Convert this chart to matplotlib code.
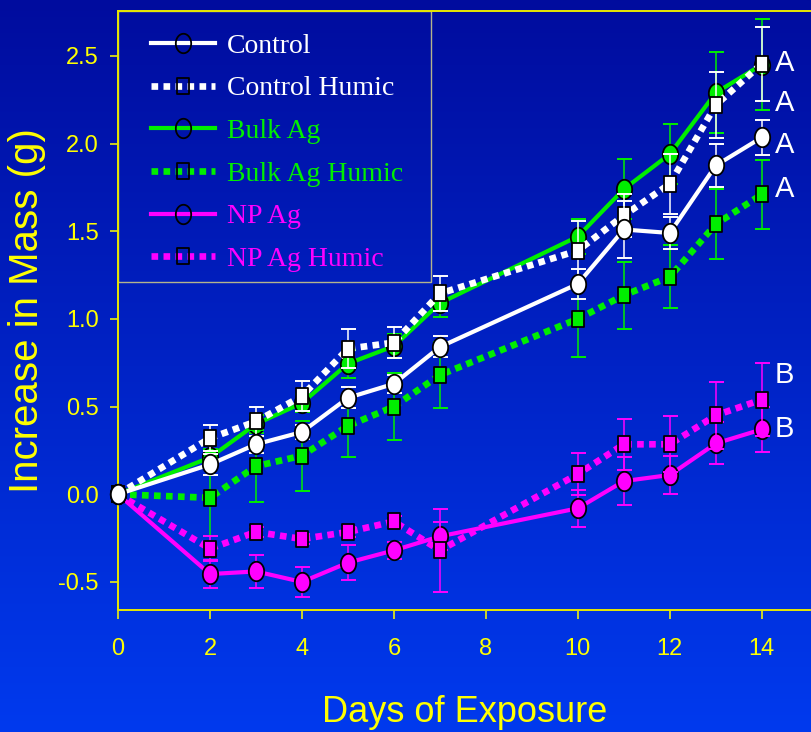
import numpy as np
import matplotlib
matplotlib.use("Agg")
import matplotlib.pyplot as plt
from matplotlib.path import Path
from matplotlib.lines import Line2D
from matplotlib.patches import Rectangle

# mass gain per treatment, mean and error, by day of exposure
days = [0, 2, 3, 4, 5, 6, 7, 10, 11, 12, 13, 14]

control = [0, 0.17, 0.285, 0.355, 0.55, 0.63, 0.84, 1.20, 1.51, 1.49, 1.875, 2.035]
control_err = [0, 0.06, 0.05, 0.04, 0.06, 0.05, 0.06, 0.085, 0.16, 0.09, 0.12, 0.10]

control_humic = [0, 0.32, 0.415, 0.56, 0.83, 0.865, 1.145, 1.39, 1.59, 1.77, 2.22, 2.455]
control_humic_err = [0, 0.075, 0.08, 0.085, 0.11, 0.09, 0.10, 0.17, 0.12, 0.17, 0.19, 0.21]

bulk_ag = [0, 0.21, 0.40, 0.52, 0.745, 0.845, 1.09, 1.47, 1.74, 1.94, 2.29, 2.45]
bulk_ag_err = [0, 0.05, 0.05, 0.05, 0.08, 0.07, 0.08, 0.10, 0.17, 0.17, 0.23, 0.26]

bulk_ag_humic = [0, -0.02, 0.16, 0.22, 0.39, 0.50, 0.68, 1.00, 1.135, 1.24, 1.54, 1.71]
bulk_ag_humic_err = [0, 0.22, 0.205, 0.20, 0.18, 0.19, 0.19, 0.22, 0.19, 0.18, 0.20, 0.195]

np_ag = [0, -0.455, -0.44, -0.50, -0.39, -0.32, -0.24, -0.08, 0.075, 0.11, 0.29, 0.37]
np_ag_err = [0, 0.08, 0.095, 0.085, 0.10, 0.05, 0.08, 0.105, 0.135, 0.11, 0.12, 0.13]

np_ag_humic = [0, -0.31, -0.215, -0.255, -0.215, -0.155, -0.32, 0.115, 0.285, 0.285, 0.45, 0.54]
np_ag_humic_err = [0, 0.07, 0.03, 0.03, 0.03, 0.03, 0.235, 0.12, 0.145, 0.16, 0.19, 0.21]

# significance letters at day 14
sig_letters = ["A", "A", "A", "A", "B", "B"]
sig_y = [2.46, 2.23, 1.99, 1.74, 0.68, 0.37]

WHITE = "#ffffff"
GREEN = "#00ee00"
MAGENTA = "#ff00ff"
YELLOW = "#ffff00"

# slightly tall markers
t = np.linspace(0, 2 * np.pi, 64)
ellipse = Path(np.column_stack([0.79 * np.cos(t), np.sin(t)]), closed=True)
tall_sq = Path([(-0.82, -1), (0.82, -1), (0.82, 1), (-0.82, 1), (-0.82, -1)], closed=True)

solid = dict(ls="-", lw=3.0)
dotted = dict(ls=(0, (1, 0.8)), lw=4.8)

# drawn bottom to top
series = [
    ("Bulk Ag", bulk_ag, bulk_ag_err, GREEN, ellipse, 14, solid),
    ("NP Ag", np_ag, np_ag_err, MAGENTA, ellipse, 14, solid),
    ("Bulk Ag Humic", bulk_ag_humic, bulk_ag_humic_err, GREEN, tall_sq, 11, dotted),
    ("NP Ag Humic", np_ag_humic, np_ag_humic_err, MAGENTA, tall_sq, 11, dotted),
    ("Control Humic", control_humic, control_humic_err, WHITE, tall_sq, 11, dotted),
    ("Control", control, control_err, WHITE, ellipse, 14, solid),
]

fig = plt.figure(figsize=(8.11, 7.32), dpi=100)

# blue backdrop, darker at the top
bg = fig.add_axes([0, 0, 1, 1], zorder=-1)
g = np.linspace(0, 1, 256)[:, None]
top = np.array([0, 12, 158]) / 255
bot = np.array([0, 58, 238]) / 255
img = (top + (bot - top) * g)[:, None, :]
bg.imshow(img, aspect="auto", extent=[0, 1, 0, 1])
bg.axis("off")

ax = fig.add_axes([118 / 811, 122 / 732, 693 / 811, 599 / 732])
ax.set_facecolor("none")

z = 2
for label, y, err, color, marker, ms, style in series:
    ax.errorbar(days[1:], y[1:], yerr=err[1:], fmt="none", ecolor=color,
                elinewidth=1.1, capsize=5.4, capthick=1.4, zorder=z)
    ax.plot(days, y, color=color, zorder=z + 0.1, **style)
    ax.plot(days, y, ls="none", marker=marker, ms=ms, mfc=color, mec="black",
            mew=1.3, clip_on=False, zorder=z + 0.2)
    z += 1

for s, yy in zip(sig_letters, sig_y):
    ax.text(14.5, yy, s, color=WHITE, fontsize=21, ha="center", va="center",
            family="Liberation Sans")

ax.set_xlim(0, 15.07)
ax.set_ylim(-0.66, 2.756)
ax.set_xticks([0, 2, 4, 6, 8, 10, 12, 14])
ax.set_yticks([-0.5, 0, 0.5, 1.0, 1.5, 2.0, 2.5])
ax.set_yticklabels(["-0.5", "0.0", "0.5", "1.0", "1.5", "2.0", "2.5"])

for side in ["top", "left", "bottom"]:
    ax.spines[side].set_color("#e8e800")
    ax.spines[side].set_linewidth(1.4)
ax.spines["right"].set_visible(False)

ax.tick_params(axis="x", colors=YELLOW, direction="out", length=6.5, width=1.1,
               pad=14, labelsize=17)
ax.tick_params(axis="y", colors=YELLOW, direction="out", length=6, width=1.1,
               pad=8, labelsize=17)
for lab in ax.get_xticklabels() + ax.get_yticklabels():
    lab.set_family("Liberation Sans")

ax.set_xlabel("Days of Exposure", color=YELLOW, fontsize=26, labelpad=25,
              family="Liberation Sans")
ax.set_ylabel("Increase in Mass (g)", color=YELLOW, fontsize=29, labelpad=9,
              family="Liberation Sans")

# legend
legend_order = ["Control", "Control Humic", "Bulk Ag", "Bulk Ag Humic", "NP Ag", "NP Ag Humic"]
by_label = {s[0]: s for s in series}
handles, colors = [], []
for name in legend_order:
    _, _, _, color, marker, ms, style = by_label[name]
    handles.append(Line2D([], [], color=color, marker=marker, ms=ms, mfc="none",
                          mec="black", mew=1.3, **style))
    colors.append(color)

ax.add_patch(Rectangle((0, 1 - 0.4524), 0.4517, 0.4524, transform=ax.transAxes,
                       fill=False, ec="#b4b48c", lw=1.0, zorder=1))
leg = ax.legend(handles, legend_order, loc="upper left", bbox_to_anchor=(0.0476, 0.963),
                borderaxespad=0, borderpad=0, frameon=False, handlelength=2.3,
                handletextpad=0.42, labelspacing=0.62, labelcolor=colors,
                prop={"family": "Liberation Serif", "size": 20})

fig.savefig("out.png", dpi=100)
